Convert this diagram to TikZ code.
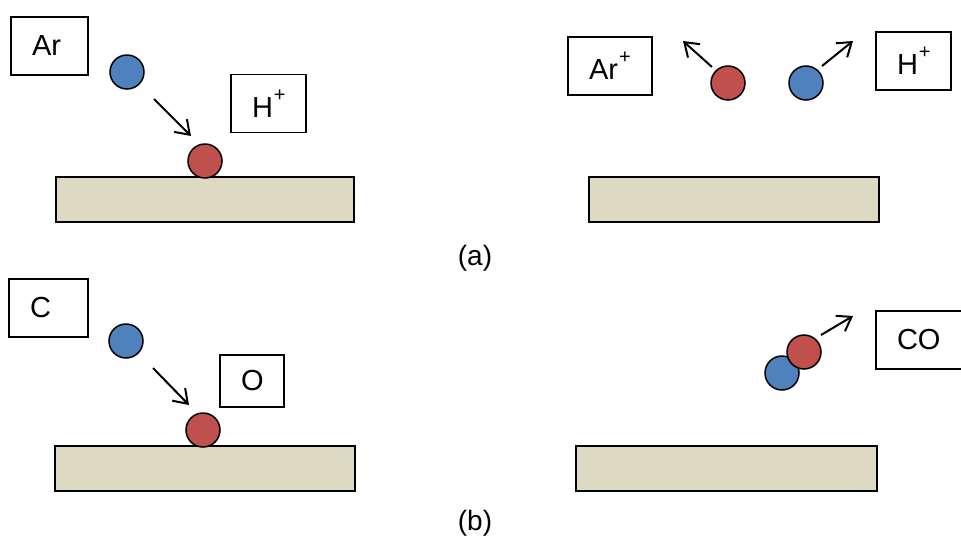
\documentclass[tikz,border=0pt]{standalone}
\usepackage{fontspec}
\setmainfont{Liberation Sans}
\usetikzlibrary{arrows.meta}
\definecolor{AtomBlue}{RGB}{79,129,189}
\definecolor{AtomRed}{RGB}{192,80,77}
\definecolor{SurfTan}{RGB}{221,217,195}
\newcommand{\plusup}{\kern1pt\raisebox{16pt}{\fontsize{20}{20}\selectfont +}}
\begin{document}
\begin{tikzpicture}[x=1pt,y=-1pt,
    lbl/.style={draw, line width=1.5pt, inner xsep=21pt, inner ysep=0pt, align=left,
      minimum height=58pt, font=\fontsize{29}{32}\selectfont},
    atom/.style={circle, draw, line width=1.5pt, minimum size=34pt, inner sep=0pt},
    surf/.style={draw, line width=1.8pt, fill=SurfTan},
    move/.style={-{Straight Barb[length=13pt,width=18pt]}, line width=2pt}]
        \useasboundingbox (0,0) rectangle (961,539);
        % (a) top left
        \draw[surf] (56,177) rectangle (354,222);
        \node[lbl, text width=35pt] (arbox) at (49.5,46) {Ar};
        \node[lbl, text width=33pt] (hbox) at (268.5,103.5) {H\plusup};
        \node[atom, fill=AtomBlue] (ar) at (127,72) {};
        \node[atom, fill=AtomRed] (h) at (205,161) {};
        \coordinate (ar-s) at (154,99); \coordinate (ar-e) at (191,136);
        \draw[move] (ar-s) -- (ar-e);
        % (a) top right
        \draw[surf] (589,177) rectangle (879,222);
        \node[lbl, text width=42pt] (arpbox) at (610,66) {Ar\plusup};
        \node[lbl, text width=33pt] (hpbox) at (913.5,61) {H\plusup};
        \node[atom, fill=AtomRed] (hp) at (728,83) {};
        \node[atom, fill=AtomBlue] (arp) at (806,83) {};
        \coordinate (hp-s) at (712,67); \coordinate (hp-e) at (683,41);
        \coordinate (arp-s) at (822,66); \coordinate (arp-e) at (853,41);
        \draw[move] (hp-s) -- (hp-e);
        \draw[move] (arp-s) -- (arp-e);
        \node[font=\fontsize{28}{30}\selectfont] (capa) at (475,258) {(a)};
        % (b) bottom left
        \draw[surf] (55,446) rectangle (355,491);
        \node[lbl, text width=37pt] (cbox) at (48.5,308) {C};
        \node[lbl, text width=22pt, minimum height=52pt] (obox) at (252,381) {O};
        \node[atom, fill=AtomBlue] (c) at (126,341) {};
        \node[atom, fill=AtomRed] (o) at (203,430) {};
        \coordinate (c-s) at (153,368); \coordinate (c-e) at (189,405);
        \draw[move] (c-s) -- (c-e);
        % (b) bottom right
        \draw[surf] (576,446) rectangle (877,491);
        \node[lbl, text width=46pt] (cobox) at (920,340) {CO};
        \node[atom, fill=AtomBlue] (cc) at (782,373) {};
        \node[atom, fill=AtomRed] (co) at (804,352) {};
        \coordinate (co-s) at (821,335); \coordinate (co-e) at (853,316);
        \draw[move] (co-s) -- (co-e);
        \node[font=\fontsize{28}{30}\selectfont] (capb) at (475,523) {(b)};
      \end{tikzpicture}
\end{document}
